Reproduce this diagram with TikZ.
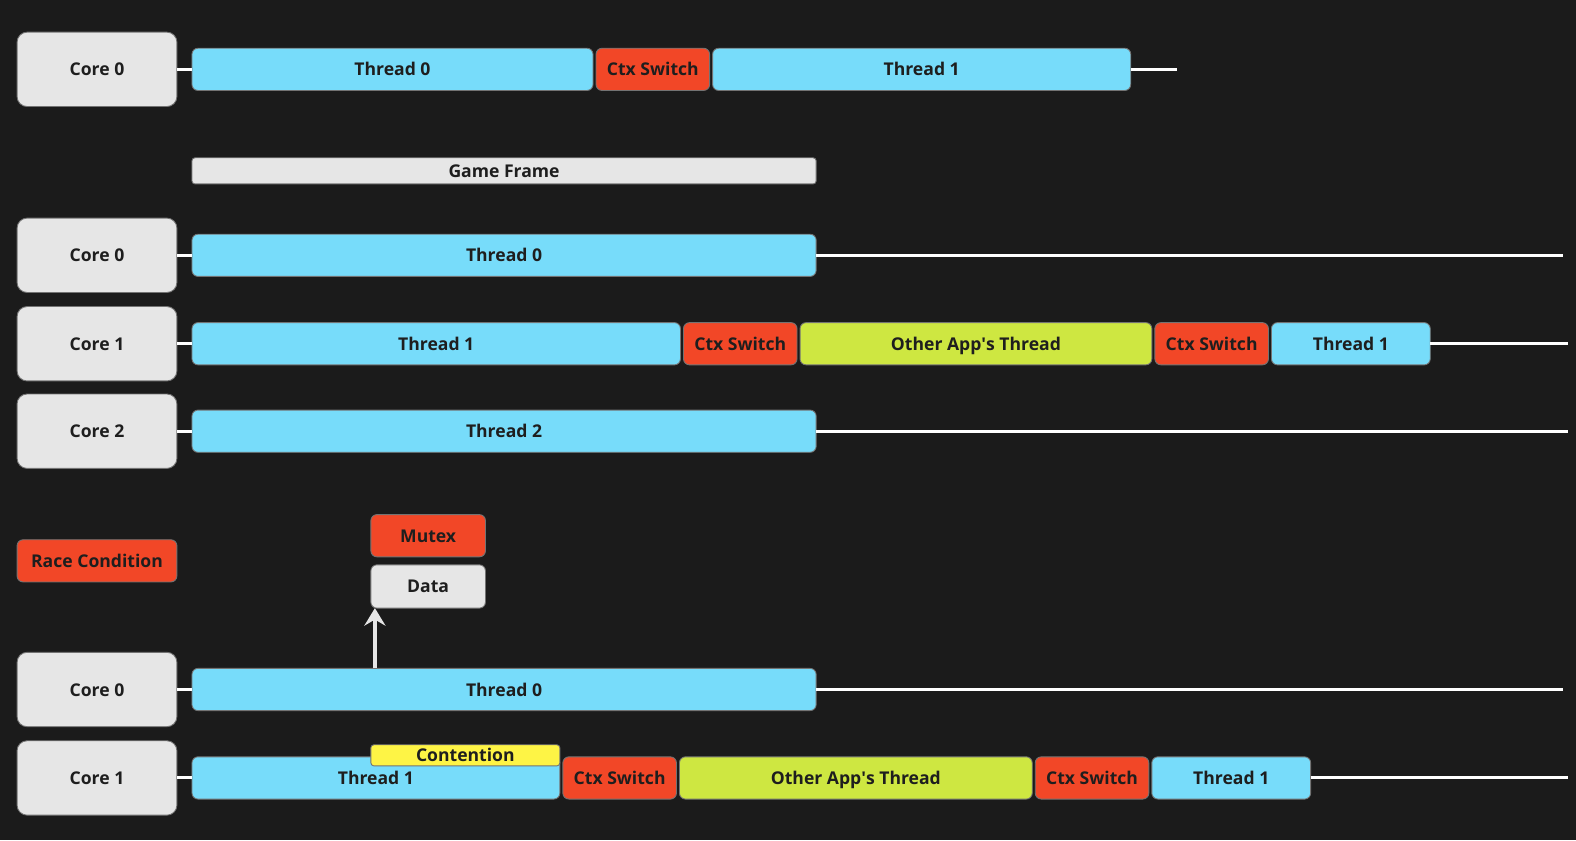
\documentclass[tikz,border=0pt]{standalone}
\usepackage{fontspec}
\setmainfont{Open Sans}
\usepackage{tikz}
\usetikzlibrary{positioning,calc,arrows.meta}

\definecolor{bgdark}{HTML}{1B1B1B}
\definecolor{coregray}{HTML}{E6E6E6}
\definecolor{threadblue}{HTML}{77DCFA}
\definecolor{ctxred}{HTML}{F24727}
\definecolor{appgreen}{HTML}{CEE741}
\definecolor{waityellow}{HTML}{FEF445}
\definecolor{inkdark}{HTML}{1E1E1E}

\newlength\pxu
\setlength\pxu{0.0201cm}

\tikzset{
    bar/.style={draw=black!55, line width=0.5pt, rounded corners=3.4pt, inner sep=0pt, outer sep=0pt,
        minimum height=42\pxu, text=inkdark, text height=7.4pt, text depth=0pt,
        font=\fontsize{10}{12}\selectfont\bfseries},
    core/.style={bar, fill=coregray, rounded corners=5.7pt, minimum width=159\pxu, minimum height=74\pxu, anchor=west},
    thread/.style={bar, fill=threadblue},
    ctx/.style={bar, fill=ctxred, minimum width=113\pxu},
    app/.style={bar, fill=appgreen},
    wire/.style={draw=white, line width=1.7pt},
    flow/.style={draw=coregray, line width=1.9pt, -{Stealth[length=10pt,width=12pt,inset=3.5pt]}}
}

\begin{document}
\begin{tikzpicture}[x=\pxu, y=-\pxu]
    \useasboundingbox[fill=bgdark] (0,0) rectangle (1568,836);

    % Single core, two threads
    \node[core] (c1) at (17,69) {Core 0};
    \node[thread, anchor=west, minimum width=399\pxu] (a1) at (191,69) {Thread 0};
    \node[ctx, right=3\pxu of a1] (a2) {Ctx Switch};
    \node[thread, right=3\pxu of a2, minimum width=416\pxu] (a3) {Thread 1};
    \coordinate (e1) at (1171,69);
    \draw[wire] (c1.east) -- (a1.west);
    \draw[wire] (a3.east) -- (e1);

    % Frame marker
    \node[bar, fill=coregray, anchor=west, rounded corners=1.7pt, minimum width=621\pxu, minimum height=26\pxu] (frame) at (191,170) {Game Frame};

    % Three cores
    \node[core] (c2) at (17,254) {Core 0};
    \node[thread, anchor=west, minimum width=621\pxu] (b1) at (191,254) {Thread 0};
    \coordinate (e2) at (1555,254);
    \draw[wire] (c2.east) -- (b1.west);
    \draw[wire] (b1.east) -- (e2);

    \node[core] (c3) at (17,342) {Core 1};
    \node[thread, anchor=west, minimum width=486\pxu] (d1) at (191,342) {Thread 1};
    \node[ctx, right=3\pxu of d1] (d2) {Ctx Switch};
    \node[app, right=3\pxu of d2, minimum width=350\pxu] (d3) {Other App\textquotesingle s Thread};
    \node[ctx, right=3\pxu of d3] (d4) {Ctx Switch};
    \node[thread, right=3\pxu of d4, minimum width=158\pxu] (d5) {Thread 1};
    \coordinate (e3) at (1560,342);
    \draw[wire] (c3.east) -- (d1.west);
    \draw[wire] (d5.east) -- (e3);

    \node[core] (c4) at (17,429) {Core 2};
    \node[thread, anchor=west, minimum width=621\pxu] (f1) at (191,429) {Thread 2};
    \coordinate (e4) at (1560,429);
    \draw[wire] (c4.east) -- (f1.west);
    \draw[wire] (f1.east) -- (e4);

    % Race condition
    \node[bar, fill=ctxred, anchor=west, minimum width=159\pxu] (race) at (17,558) {Race Condition};
    \node[bar, fill=ctxred, anchor=north west, minimum width=114\pxu] (mutex) at (369,512) {Mutex};
    \node[bar, fill=coregray, anchor=north west, minimum width=114\pxu, minimum height=43\pxu] (data) at (369,562) {Data};

    \node[core] (c5) at (17,686) {Core 0};
    \node[thread, anchor=west, minimum width=621\pxu] (g1) at (191,686) {Thread 0};
    \coordinate (e5) at (1555,686);
    \draw[wire] (c5.east) -- (g1.west);
    \draw[wire] (g1.east) -- (e5);
    \draw[flow] ([xshift=4\pxu]g1.north -| data.west) -- ([xshift=4\pxu]data.south west);

    \node[core] (c6) at (17,774) {Core 1};
    \node[thread, anchor=west, minimum width=366\pxu] (h1) at (191,774) {Thread 1};
    \node[ctx, right=3\pxu of h1] (h2) {Ctx Switch};
    \node[app, right=3\pxu of h2, minimum width=351\pxu] (h3) {Other App\textquotesingle s Thread};
    \node[ctx, right=3\pxu of h3] (h4) {Ctx Switch};
    \node[thread, right=3\pxu of h4, minimum width=158\pxu] (h5) {Thread 1};
    \coordinate (e6) at (1560,774);
    \draw[wire] (c6.east) -- (h1.west);
    \draw[wire] (h5.east) -- (e6);
    \node[bar, fill=waityellow, anchor=north west, rounded corners=1.7pt, minimum width=188\pxu, minimum height=21\pxu] (lock) at (369,741) {Contention};
\end{tikzpicture}
\end{document}
